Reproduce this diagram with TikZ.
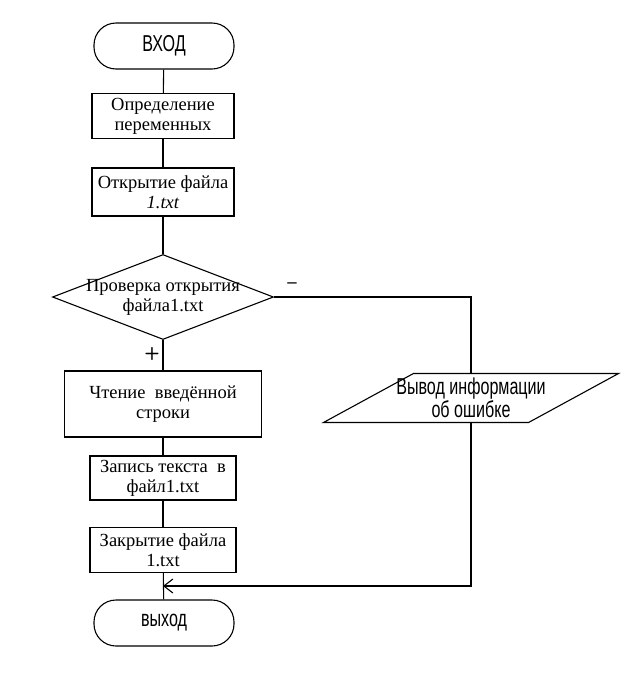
\documentclass[tikz,border=0pt]{standalone}
\usepackage{fontspec}
\setmainfont{Liberation Serif}
\newfontfamily\narrowsans[FakeStretch=0.7]{Liberation Sans}
\usetikzlibrary{shapes.geometric,arrows.meta}
\begin{document}
\begin{tikzpicture}
  [x=1pt, y=-1pt, line width=1.1pt,
    block/.style={draw, rectangle, align=center, inner sep=0pt,
    font=\rmfamily\fontsize{18.5}{20}\selectfont},
    term/.style={draw, rectangle, rounded corners=22pt, inner sep=0pt,
    minimum width=140pt, minimum height=46pt,
    font=\narrowsans\fontsize{23}{20}\selectfont},
    decision/.style={draw, diamond, inner sep=0pt,
    minimum width=221pt, minimum height=85pt},
    iobox/.style={draw, trapezium, trapezium left angle=52,
    trapezium right angle=128, trapezium stretches=true,
    inner sep=1pt, minimum width=295pt, minimum height=49pt},
    sanstext/.style={align=center, font=\narrowsans\fontsize{23}{21}\selectfont},
    seriftext/.style={align=center, font=\rmfamily\fontsize{18.5}{20}\selectfont},
    mark text/.style={font=\sffamily\bfseries\fontsize{18}{18}\selectfont},
    arrow/.style={-{Straight Barb[length=9pt,width=14pt]}}]
  \useasboundingbox (0,0) rectangle (642,673);
  % main column
  \node[term] (start) at (164,46) {ВХОД};
  \node[block, minimum width=142pt, minimum height=45pt] (def) at (163,116)
    {Определение\\переменных};
  \node[block, minimum width=142pt, minimum height=48pt] (open) at (163,192)
    {Открытие файла\\\textit{1.txt}};
  \node[decision, label={[seriftext]center:Проверка открытия\\файла1.txt}]
    (check) at (163,297) {};
  \node[block, minimum width=197pt, minimum height=66pt] (read) at (163,404)
    {Чтение\ \ введённой\\строки};
  \node[block, minimum width=146pt, minimum height=44pt] (write) at (163,478)
    {Запись текста\ \ в\\файл1.txt};
  \node[block, minimum width=146pt, minimum height=45pt] (close) at (163,550)
    {Закрытие файла\\1.txt};
  \node[term] (stop) at (164,623) {выход};
  % error branch
  \node[iobox, label={[sanstext]center:Вывод информации\\об ошибке}]
    (err) at (471,398) {};
  \coordinate (join) at (163,586);
  \node[mark text] (minus) at (292,286) {–};
  \node[mark text] (plus) at (152,354) {+};

  \draw (start) -- (def);
  \draw (def) -- (open);
  \draw (open) -- (check);
  \draw (check) -- (read);
  \draw (read) -- (write);
  \draw (write) -- (close);
  \draw (close) -- (stop);
  \draw (check.east) -| (err.north);
  \draw[arrow] (err.south) |- (join);
\end{tikzpicture}
\end{document}
